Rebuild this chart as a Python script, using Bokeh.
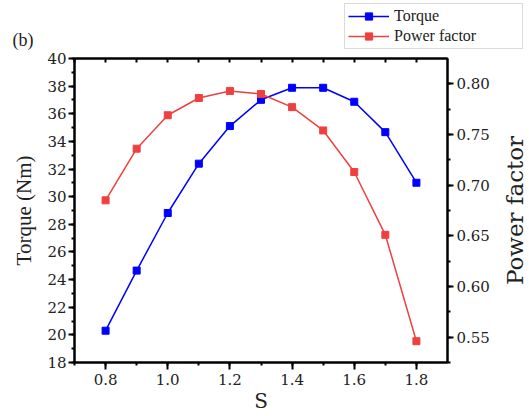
import math
from bokeh.plotting import figure
from bokeh.layouts import column, row
from bokeh.models import (Range1d, LinearAxis, SingleIntervalTicker, NumeralTickFormatter,
                          Legend, LegendItem, Label, CustomJSTickFormatter)
from bokeh.embed import file_html
from bokeh.resources import INLINE

# ---- data ----
slip = [0.8, 0.9, 1.0, 1.1, 1.2, 1.3, 1.4, 1.5, 1.6, 1.7, 1.8]
torque = [20.3, 24.65, 28.82, 32.39, 35.11, 37.01, 37.88, 37.88, 36.87, 34.67, 31.01]
power_factor = [0.685, 0.736, 0.769, 0.786, 0.793, 0.790, 0.777, 0.754, 0.713, 0.651, 0.546]

series_names = ["Torque", "Power factor"]
x_title = "S"
y_title = "Torque (Nm)"
y2_title = "Power factor"
panel_tag = "(b)"

BLUE = "#0000FF"
RED = "#EF4040"
TICK_FONT = "DejaVu Serif"
TIMES = "Liberation Serif"

W, H = 529, 416
HEAD_H = 50                 # header strip: legend + panel tag
BODY_H = H - HEAD_H
STRIP_W = 37                # right strip: power-factor title
MAIN_W = W - STRIP_W
FL, FR, FT, FB = 74, 43, 8, 54

def blank_fig(width, height):
    f = figure(width=width, height=height, output_backend="svg", toolbar_location=None,
               title=None, x_range=Range1d(0, 1), y_range=Range1d(100, 101),
               min_border_left=0, min_border_right=0, min_border_top=0, min_border_bottom=0,
               x_axis_location=None, y_axis_location=None)
    f.grid.visible = False
    f.outline_line_color = None
    f.background_fill_color = "white"
    f.border_fill_color = "white"
    return f

# ---------------- main chart ----------------
p = figure(width=MAIN_W, height=BODY_H, output_backend="svg", toolbar_location=None, title=None,
           x_range=Range1d(0.7, 1.9), y_range=Range1d(18, 40),
           min_border_left=FL, min_border_right=FR, min_border_top=FT, min_border_bottom=FB,
           x_axis_location=None, y_axis_location=None)
p.grid.visible = False
p.outline_line_color = "black"
p.outline_line_width = 2
p.background_fill_color = "white"
p.border_fill_color = "white"

p.extra_y_ranges = {"pf": Range1d(0.525, 0.825)}

def style_axis(ax, interval, fmt, minor=2):
    ax.ticker = SingleIntervalTicker(interval=interval, num_minor_ticks=minor)
    ax.formatter = NumeralTickFormatter(format=fmt)
    ax.axis_line_width = 2
    ax.axis_line_color = "black"
    ax.major_tick_line_width = 2
    ax.minor_tick_line_width = 2
    ax.major_tick_out = 6
    ax.major_tick_in = 0
    ax.minor_tick_out = 3
    ax.minor_tick_in = 0
    ax.major_label_text_font = TICK_FONT
    ax.major_label_text_font_size = "15px"
    ax.major_label_text_color = "#222222"
    ax.axis_label_text_font_style = "normal"
    ax.axis_label_text_color = "#222222"

# left axis
yl = LinearAxis()
style_axis(yl, 2, "0")
yl.major_label_standoff = 2
yl.axis_label = y_title
yl.axis_label_text_font = TIMES
yl.axis_label_text_font_size = "21px"
yl.axis_label_standoff = 8
p.add_layout(yl, "left")

# right axis (power factor)
yr = LinearAxis(y_range_name="pf")
style_axis(yr, 0.05, "0.00")
yr.major_label_standoff = 3
p.add_layout(yr, "right")

# bottom axis
xb = LinearAxis()
style_axis(xb, 0.2, "0.0")
xb.major_tick_out = 7
xb.minor_tick_out = 3
xb.major_label_standoff = 4
xb.axis_label = x_title
xb.axis_label_text_font = TICK_FONT
xb.axis_label_text_font_size = "20px"
xb.axis_label_standoff = 1
p.add_layout(xb, "below")

# top mirror axis (ticks inward, no labels)
xt = LinearAxis()
xt.ticker = SingleIntervalTicker(interval=0.1, num_minor_ticks=0)
xt.formatter = CustomJSTickFormatter(code="return ''")
xt.major_label_text_font_size = "0px"
xt.major_label_standoff = 0
xt.axis_line_width = 2
xt.major_tick_line_width = 2
xt.major_tick_out = 0
xt.major_tick_in = 4
xt.minor_tick_line_color = None
p.add_layout(xt, "above")

# series
p.line(slip, torque, line_color=BLUE, line_width=1.5)
p.scatter(slip, torque, marker="square", size=7, fill_color=BLUE, line_color=BLUE)
p.line(slip, power_factor, line_color=RED, line_width=1.5, y_range_name="pf")
p.scatter(slip, power_factor, marker="square", size=7, fill_color=RED, line_color=RED,
          y_range_name="pf")

# ---------------- right strip: power factor title (reads bottom-to-top) ----------------
s = blank_fig(STRIP_W, BODY_H)
frame_mid_from_bottom = FB + (BODY_H - FT - FB) / 2
s.add_layout(Label(x=514 - MAIN_W, y=frame_mid_from_bottom, x_units="screen", y_units="screen",
                   text=y2_title, angle=math.pi / 2, text_font=TICK_FONT,
                   text_font_size="23px", text_align="center", text_baseline="middle",
                   text_color="#222222"))

# ---------------- header strip: legend + panel tag ----------------
h = blank_fig(W, HEAD_H)
# legend keys: the same series, drawn outside the header's visible range
k1l = h.line(slip, torque, line_color=BLUE, line_width=1.5)
k1m = h.scatter(slip, torque, marker="square", size=7, fill_color=BLUE, line_color=BLUE)
k2l = h.line(slip, power_factor, line_color=RED, line_width=1.5)
k2m = h.scatter(slip, power_factor, marker="square", size=7, fill_color=RED, line_color=RED)

LEG_H = 44
LEG_TOP = 5
legend = Legend(items=[LegendItem(label=series_names[0], renderers=[k1l, k1m]),
                       LegendItem(label=series_names[1], renderers=[k2l, k2m])],
                orientation="vertical", location=(344, HEAD_H - LEG_TOP - LEG_H))
legend.label_text_font = TIMES
legend.label_text_font_size = "16px"
legend.label_text_color = "#222222"
legend.glyph_width = 41
legend.glyph_height = 18
legend.label_height = 18
legend.label_width = 125
legend.label_standoff = 5
legend.spacing = 2
legend.padding = 3
legend.margin = 0
legend.border_line_color = "#b8b8b8"
legend.border_line_width = 1
legend.background_fill_alpha = 1
h.add_layout(legend, "center")

h.add_layout(Label(x=12, y=1, x_units="screen", y_units="screen", text=panel_tag,
                   text_font=TIMES, text_font_size="18px", text_align="left",
                   text_baseline="bottom", text_color="#222222"))

# keep each figure's frame independent
for fig in (h, p, s):
    if "frame_align" in fig.properties():
        fig.frame_align = False

layout = column(h, row(p, s, spacing=0), spacing=0)
open("out.html", "w").write(file_html(layout, INLINE))
